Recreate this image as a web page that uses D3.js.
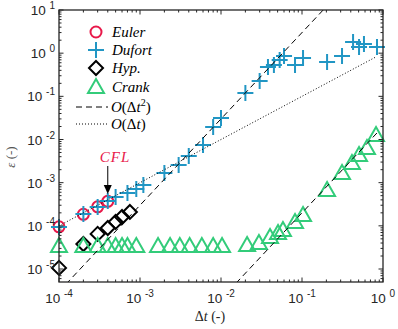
<!DOCTYPE html>
<html lang="en">
<head>
<meta charset="UTF-8">
<title>Error vs time step</title>
<style>
  body { margin: 0; background: #fff; }
  svg { display: block; }
</style>
</head>
<body>
<svg id="chart" width="398" height="329"></svg>
<script src="https://cdn.jsdelivr.net/npm/d3@7"></script>
<script>
// --- data ---
const eulerDt  = [1e-4, 2e-4, 3e-4, 4e-4];
const eulerErr = [9.5e-5, 1.85e-4, 2.75e-4, 3.7e-4];

const dufortDt  = [1e-4, 2e-4, 3e-4, 4e-4, 5e-4, 7e-4, 9e-4, 1.1e-3, 2e-3, 3e-3, 4e-3, 6e-3, 8e-3, 1e-2,
                   2e-2, 3e-2, 3.8e-2, 4.5e-2, 5.3e-2, 6e-2, 8.2e-2, 0.103, 0.204, 0.312, 0.427, 0.506, 0.582, 0.843];
const dufortErr = [9.4e-5, 1.88e-4, 2.73e-4, 3.77e-4, 4.66e-4, 5.8e-4, 7.1e-4, 8.8e-4, 1.67e-3, 2.57e-3, 4.15e-3, 7.5e-3, 1.95e-2, 3.15e-2,
                   0.119, 0.226, 0.478, 0.532, 0.695, 0.86, 0.532, 0.773, 0.624, 0.86, 1.82, 1.39, 1.63, 1.39];

const hypDt  = [1e-4, 2e-4, 3e-4, 4e-4, 5e-4, 6e-4, 7.5e-4];
const hypErr = [1.06e-5, 3.8e-5, 6.5e-5, 8.9e-5, 1.23e-4, 1.6e-4, 2.1e-4];

const crankDt  = [1e-4, 2e-4, 3e-4, 4e-4, 5e-4, 6e-4, 7e-4, 9e-4, 1.67e-3, 2.35e-3, 3.1e-3, 4.1e-3, 5.8e-3, 8e-3, 1.03e-2,
                  0.021, 0.0294, 0.0403, 0.0506, 0.0582, 0.082, 0.103, 0.204, 0.312, 0.414, 0.506, 0.634, 0.82];
const crankErr = [3.4e-5, 3.4e-5, 3.4e-5, 3.4e-5, 3.4e-5, 3.4e-5, 3.4e-5, 3.4e-5, 3.4e-5, 3.4e-5, 3.4e-5, 3.4e-5, 3.4e-5, 3.4e-5, 3.4e-5,
                  3.6e-5, 4.0e-5, 5.5e-5, 6.8e-5, 8.0e-5, 1.23e-4, 1.78e-4, 6.76e-4, 1.67e-3, 2.86e-3, 4.38e-3, 6.35e-3, 1.27e-2];

// reference slopes (end points)
const slope2aDt  = [1e-4, 0.19];
const slope2aErr = [3e-6, 10.83];
const slope2bDt  = [0.0153, 0.9];
const slope2bErr = [4.68e-6, 0.0162];
const slope1Dt   = [1e-4, 0.8];
const slope1Err  = [1e-4, 0.8];

const xTickExp = [-4, -3, -2, -1, 0];
const yTickExp = [-5, -4, -3, -2, -1, 0, 1];

const legendNames = ["Euler", "Dufort", "Hyp.", "Crank"];

// --- layout ---
const svg = d3.select("#chart");
const pL = 59, pR = 383, pT = 10, pB = 282;

const x = d3.scaleLog().domain([1e-4, 1]).range([pL, pR]);
const y = d3.scaleLog().domain([5e-6, 10]).range([pB, pT]);

const red = "#e8194a", blue = "#2196c4", green = "#33cc7a", black = "#000";
const axisColor = "#262626";

svg.append("defs").append("clipPath").attr("id", "clip")
  .append("rect").attr("x", pL).attr("y", pT)
  .attr("width", pR - pL).attr("height", pB - pT);

// lines get clipped to the axes, markers do not (like matlab)
const plot = svg.append("g");
const lines = svg.append("g").attr("clip-path", "url(#clip)");

// markers
function circle(g, cx, cy, c) {
  g.append("circle").attr("cx", cx).attr("cy", cy).attr("r", 5.5)
    .attr("fill", "none").attr("stroke", c).attr("stroke-width", 2);
}
function plus(g, cx, cy, c) {
  g.append("path").attr("d", `M${cx - 8},${cy}H${cx + 8}M${cx},${cy - 8}V${cy + 8}`)
    .attr("stroke", c).attr("stroke-width", 2).attr("fill", "none");
}
function diamond(g, cx, cy, c) {
  const s = 7;
  g.append("path").attr("d", `M${cx},${cy - s}L${cx + s},${cy}L${cx},${cy + s}L${cx - s},${cy}Z`)
    .attr("stroke", c).attr("stroke-width", 2).attr("fill", "none");
}
function triangle(g, cx, cy, c) {
  const s = 8;
  g.append("path").attr("d", `M${cx},${cy - s}L${cx + s},${cy + s * 0.75}L${cx - s},${cy + s * 0.75}Z`)
    .attr("stroke", c).attr("stroke-width", 2).attr("fill", "none").attr("stroke-linejoin", "miter");
}

const series = [
  { dt: eulerDt, err: eulerErr, mark: circle, color: red },
  { dt: dufortDt, err: dufortErr, mark: plus, color: blue },
  { dt: hypDt, err: hypErr, mark: diamond, color: black },
  { dt: crankDt, err: crankErr, mark: triangle, color: green }
];

series.forEach(s => {
  const g = plot.append("g");
  s.dt.forEach((d, i) => s.mark(g, x(d), y(s.err[i]), s.color));
});

// reference lines
const line = d3.line().x(d => x(d[0])).y(d => y(d[1]));
function refLine(dt, err, dash) {
  lines.append("path").datum(d3.zip(dt, err)).attr("d", line)
    .attr("fill", "none").attr("stroke", black).attr("stroke-width", 1)
    .attr("stroke-dasharray", dash);
}
refLine(slope2aDt, slope2aErr, "6,4");
refLine(slope2bDt, slope2bErr, "6,4");
refLine(slope1Dt, slope1Err, "1,2");

// axes box and ticks
const ax = svg.append("g").attr("stroke", axisColor).attr("fill", "none");
ax.append("rect").attr("x", pL).attr("y", pT).attr("width", pR - pL).attr("height", pB - pT)
  .attr("stroke-width", 1.3);

function logTicks(lo, hi) {
  const out = [];
  for (let e = lo; e < hi; e++) for (let m = 1; m < 10; m++) out.push({ v: m * Math.pow(10, e), major: m === 1 });
  out.push({ v: Math.pow(10, hi), major: true });
  return out;
}
logTicks(-4, 0).forEach(t => {
  const px = x(t.v), L = t.major ? 4.5 : 2.5;
  ax.append("line").attr("x1", px).attr("x2", px).attr("y1", pB).attr("y2", pB - L);
  ax.append("line").attr("x1", px).attr("x2", px).attr("y1", pT).attr("y2", pT + L);
});
logTicks(-6, 1).filter(t => t.v >= 5e-6).forEach(t => {
  const py = y(t.v), L = t.major ? 4.5 : 2.5;
  ax.append("line").attr("y1", py).attr("y2", py).attr("x1", pL).attr("x2", pL + L);
  ax.append("line").attr("y1", py).attr("y2", py).attr("x1", pR).attr("x2", pR - L);
});

// tick labels
const tickFont = "'Liberation Sans', Arial, sans-serif";
xTickExp.forEach(e => {
  const t = svg.append("text").attr("x", x(Math.pow(10, e))).attr("y", 303)
    .attr("text-anchor", "middle").attr("font-family", tickFont).attr("font-size", 13.5).attr("fill", axisColor);
  t.append("tspan").text("10 ");
  t.append("tspan").attr("font-size", 10).attr("dy", -6).text(e);
});
yTickExp.forEach(e => {
  const t = svg.append("text").attr("x", 55).attr("y", y(Math.pow(10, e)) + 5)
    .attr("text-anchor", "end").attr("font-family", tickFont).attr("font-size", 13.5).attr("fill", axisColor);
  t.append("tspan").text("10 ");
  t.append("tspan").attr("font-size", 10).attr("dy", -6).text(e);
});

// axis labels
const serif = "'Liberation Serif', 'DejaVu Serif', serif";
const xl = svg.append("text").attr("x", 210).attr("y", 321).attr("text-anchor", "middle")
  .attr("font-family", serif).attr("font-size", 14).attr("fill", axisColor);
xl.append("tspan").text("\u0394");
xl.append("tspan").attr("font-style", "italic").text("t");
xl.append("tspan").text(" (-)");

const yl = svg.append("text").attr("transform", "translate(15,157) rotate(-90)").attr("text-anchor", "middle")
  .attr("font-family", serif).attr("font-size", 13).attr("fill", "#555");
yl.append("tspan").attr("font-style", "italic").text("\u03b5");
yl.append("tspan").text(" (-)");

// CFL annotation
svg.append("text").attr("x", 115).attr("y", 162).attr("text-anchor", "middle")
  .attr("font-family", serif).attr("font-style", "italic").attr("font-size", 15).attr("fill", red)
  .attr("letter-spacing", 1).text("CFL");
svg.append("line").attr("x1", x(4e-4)).attr("x2", x(4e-4)).attr("y1", 166).attr("y2", 186)
  .attr("stroke", black).attr("stroke-width", 1);
svg.append("path")
  .attr("d", `M${x(4e-4) - 4},${185}L${x(4e-4) + 4},${185}L${x(4e-4)},${194}Z`).attr("fill", black);

// legend
const lg = svg.append("g");
const markFns = [circle, plus, diamond, triangle];
const markColors = [red, blue, black, green];
const legY = [32, 50, 68, 87];
legendNames.forEach((n, i) => {
  markFns[i](lg, 96, legY[i], markColors[i]);
  lg.append("text").attr("x", 112).attr("y", legY[i] + 5).attr("font-family", serif)
    .attr("font-style", "italic").attr("font-size", 15).attr("fill", "#000").text(n);
});
lg.append("line").attr("x1", 76).attr("x2", 108).attr("y1", 107).attr("y2", 107)
  .attr("stroke", black).attr("stroke-dasharray", "6,4");
lg.append("line").attr("x1", 76).attr("x2", 108).attr("y1", 124).attr("y2", 124)
  .attr("stroke", black).attr("stroke-dasharray", "1,2");
const o2 = lg.append("text").attr("x", 111).attr("y", 112).attr("font-family", serif).attr("font-size", 15);
o2.append("tspan").attr("font-style", "italic").text("O");
o2.append("tspan").text("(\u0394");
o2.append("tspan").attr("font-style", "italic").text("t");
o2.append("tspan").attr("font-size", 10).attr("dy", -6).text("2");
o2.append("tspan").attr("dy", 6).text(")");
const o1 = lg.append("text").attr("x", 111).attr("y", 129).attr("font-family", serif).attr("font-size", 15);
o1.append("tspan").attr("font-style", "italic").text("O");
o1.append("tspan").text("(\u0394");
o1.append("tspan").attr("font-style", "italic").text("t");
o1.append("tspan").text(")");
</script>
</body>
</html>
